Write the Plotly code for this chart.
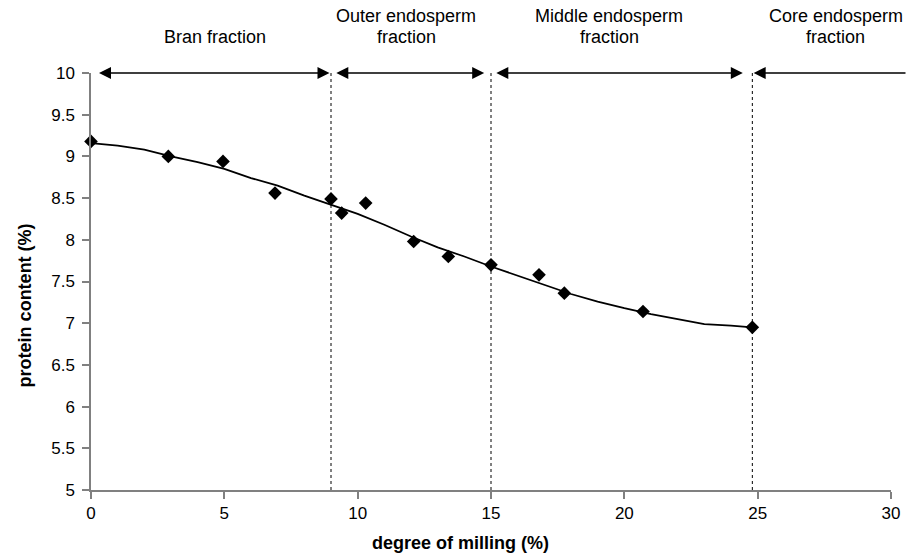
import plotly.graph_objects as go

# measured data points (degree of milling %, protein content %)
milling = [0, 2.9, 4.95, 6.9, 9.0, 9.4, 10.3, 12.1, 13.4, 15.0, 16.8, 17.75, 20.7, 24.8]
protein = [9.18, 9.0, 8.94, 8.56, 8.49, 8.32, 8.44, 7.98, 7.80, 7.70, 7.58, 7.36, 7.14, 6.95]

# trend line
trend_x = [0, 1, 2, 3, 4, 5, 6, 7, 8, 9, 10, 11, 12, 13, 14, 15, 16, 17, 18, 19, 20, 21, 22, 23, 24, 24.8]
trend_y = [9.16, 9.13, 9.08, 9.0, 8.93, 8.85, 8.74, 8.65, 8.53, 8.42, 8.31, 8.18, 8.04, 7.91, 7.80,
           7.68, 7.57, 7.46, 7.35, 7.26, 7.18, 7.11, 7.05, 6.99, 6.97, 6.95]

# fraction boundaries and arrows
boundaries = [9.0, 15.0, 24.8]
arrow_starts = [0.3, 9.2, 15.2, 24.85]
arrow_ends = [9.0, 14.8, 24.5, 30.6]
arrow_both = [True, True, True, False]
label_x = [4.65, 11.82, 19.43, 27.93]
label_line1 = ["", "Outer endosperm", "Middle endosperm", "Core endosperm"]
label_line2 = ["Bran fraction", "fraction", "fraction", "fraction"]

FONT = "Liberation Sans, Arial, sans-serif"
AXC = "#808080"

fig = go.Figure()
fig.add_trace(go.Scatter(x=trend_x, y=trend_y, mode="lines",
                         line=dict(color="black", width=1.8), showlegend=False, hoverinfo="skip"))
fig.add_trace(go.Scatter(x=milling, y=protein, mode="markers",
                         marker=dict(symbol="diamond", size=10.5, color="black"),
                         showlegend=False, cliponaxis=False))

for b in boundaries:
    fig.add_shape(type="line", xref="x", yref="y", x0=b, x1=b, y0=5, y1=10,
                  line=dict(color="black", width=1, dash="dot"), layer="below")

annotations = []
for s, e, both in zip(arrow_starts, arrow_ends, arrow_both):
    annotations.append(dict(
        x=s, y=10, xref="x", yref="y", ax=e, ay=10, axref="x", ayref="y",
        text="", showarrow=True, arrowhead=2, arrowsize=1.6, arrowwidth=1.5,
        arrowcolor="black", arrowside="end+start" if both else "end",
        standoff=0, startstandoff=0))

for lx, l1, l2 in zip(label_x, label_line1, label_line2):
    if l1:
        annotations.append(dict(x=lx, y=1.1355, xref="x", yref="paper", text=l1, showarrow=False,
                                xanchor="center", yanchor="middle",
                                font=dict(family=FONT, size=18, color="black")))
    annotations.append(dict(x=lx, y=1.0875, xref="x", yref="paper", text=l2, showarrow=False,
                            xanchor="center", yanchor="middle",
                            font=dict(family=FONT, size=18, color="black")))

annotations.append(dict(x=(463 - 91) / 805, y=-0.128, xref="paper", yref="paper",
                        text="<b>degree of milling (%)</b>", showarrow=False,
                        xanchor="center", yanchor="middle",
                        font=dict(family=FONT, size=18, color="black")))
annotations.append(dict(x=-0.082, y=0.4437, xref="paper", yref="paper",
                        text="<b>protein content (%)</b>", showarrow=False, textangle=-90,
                        xanchor="center", yanchor="middle",
                        font=dict(family=FONT, size=18, color="black")))

fig.update_layout(
    width=912, height=557,
    margin=dict(l=91, r=16, t=73, b=67),
    paper_bgcolor="white", plot_bgcolor="white",
    font=dict(family=FONT, size=17, color="black"),
    annotations=annotations,
    xaxis=dict(range=[0, 30], dtick=5, tick0=0, showgrid=False, zeroline=False,
               showline=True, linecolor=AXC, linewidth=1.5,
               ticks="outside", ticklen=7, tickwidth=1.5, tickcolor=AXC,
               tickfont=dict(family=FONT, size=17, color="black")),
    yaxis=dict(range=[5, 10], dtick=0.5, tick0=5, showgrid=False, zeroline=False,
               showline=True, linecolor=AXC, linewidth=1.5,
               ticks="outside", ticklen=7, tickwidth=1.5, tickcolor=AXC,
               ticklabelstandoff=4,
               tickfont=dict(family=FONT, size=17, color="black")),
)

fig.write_html("out.html")
